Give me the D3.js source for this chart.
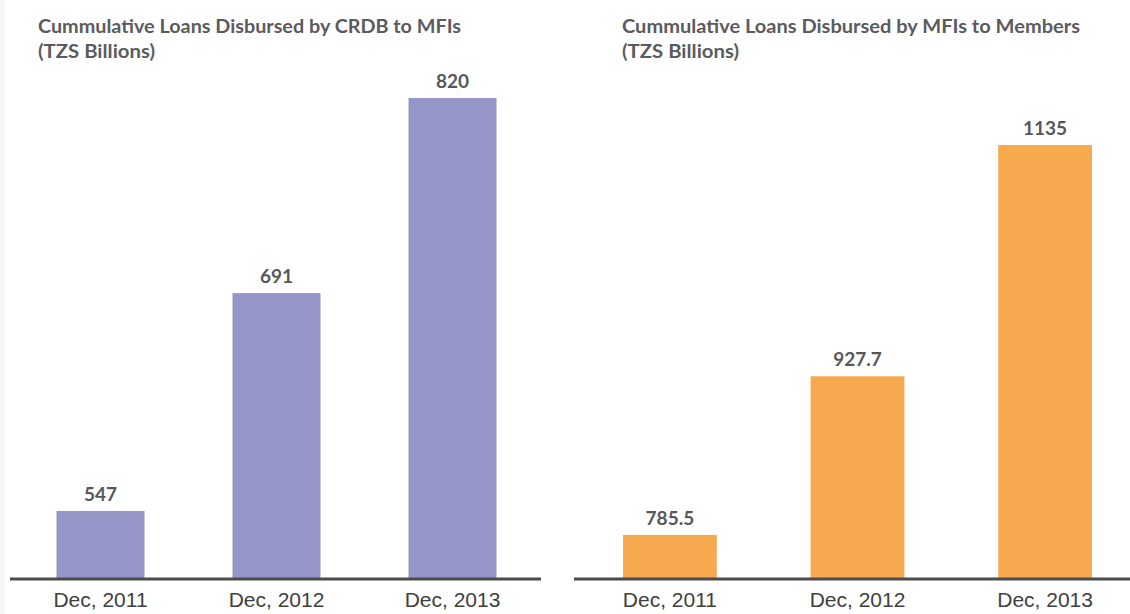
<!DOCTYPE html>
<html>
<head>
<meta charset="utf-8">
<script src="https://cdn.jsdelivr.net/npm/d3@7"></script>
<style>
  body { margin: 0; background: #fff; }
  svg { display: block; }
</style>
</head>
<body>
<svg id="chart" width="1130" height="614"></svg>
<script>
var periods = ["Dec, 2011", "Dec, 2012", "Dec, 2013"];
var crdbToMfis = [547, 691, 820];
var mfisToMembers = [785.5, 927.7, 1135];

var svg = d3.select("#chart");
var baseY = 579;

// faint strip on the left edge
svg.append("rect")
  .attr("x", 0).attr("y", 0)
  .attr("width", 5).attr("height", 614)
  .attr("fill", "#f6f6f6");

function panel(opts) {
  var g = svg.append("g");

  var x = d3.scaleBand()
    .domain(periods)
    .range(opts.xRange)
    .paddingInner(0.5)
    .paddingOuter(0);

  var y = d3.scaleLinear()
    .domain(opts.yDomain)
    .range([baseY, opts.yTop]);

  var data = periods.map(function(p, i) { return {period: p, value: opts.values[i]}; });

  g.selectAll("rect.bar").data(data).enter().append("rect")
    .attr("class", "bar")
    .attr("x", function(d) { return x(d.period); })
    .attr("y", function(d) { return y(d.value); })
    .attr("width", x.bandwidth())
    .attr("height", function(d) { return baseY - y(d.value); })
    .attr("fill", opts.color);

  g.selectAll("text.val").data(data).enter().append("text")
    .attr("class", "val")
    .attr("x", function(d) { return x(d.period) + x.bandwidth() / 2; })
    .attr("y", function(d) { return y(d.value) - 10; })
    .attr("text-anchor", "middle")
    .attr("font-family", "Lato, 'Open Sans', sans-serif")
    .attr("font-weight", 700)
    .attr("font-size", 19)
    .attr("fill", "#58585b")
    .text(function(d) { return String(d.value); });

  // baseline
  g.append("line")
    .attr("x1", opts.lineX[0]).attr("x2", opts.lineX[1])
    .attr("y1", baseY).attr("y2", baseY)
    .attr("stroke", "#4b4b4d")
    .attr("stroke-width", 3);

  var axis = g.append("g")
    .attr("transform", "translate(0," + baseY + ")")
    .call(d3.axisBottom(x).tickSize(0).tickPadding(13));
  axis.select(".domain").remove();
  axis.selectAll("text")
    .attr("font-family", "'Liberation Sans', Arial, sans-serif")
    .attr("font-size", 21)
    .attr("fill", "#404040");

  // title
  var t = g.append("g")
    .attr("font-family", "Lato, 'Open Sans', sans-serif")
    .attr("font-weight", 700)
    .attr("font-size", 18)
    .attr("fill", "#5b5b5f");
  t.append("text")
    .attr("x", opts.titleX).attr("y", 33)
    .attr("textLength", opts.titleW)
    .attr("lengthAdjust", "spacingAndGlyphs")
    .text(opts.title);
  t.append("text")
    .attr("x", opts.titleX).attr("y", 58)
    .attr("textLength", 117)
    .attr("lengthAdjust", "spacingAndGlyphs")
    .text("(TZS Billions)");
}

panel({
  title: "Cummulative Loans Disbursed by CRDB to MFIs",
  titleX: 38, titleW: 423,
  values: crdbToMfis,
  color: "#9796c8",
  xRange: [56.5, 496.5],
  yDomain: [502, 820], yTop: 98,
  lineX: [10, 541]
});

panel({
  title: "Cummulative Loans Disbursed by MFIs to Members",
  titleX: 622, titleW: 458,
  values: mfisToMembers,
  color: "#f7a950",
  xRange: [623, 1092],
  yDomain: [746, 1135], yTop: 145,
  lineX: [574, 1130]
});
</script>
</body>
</html>
